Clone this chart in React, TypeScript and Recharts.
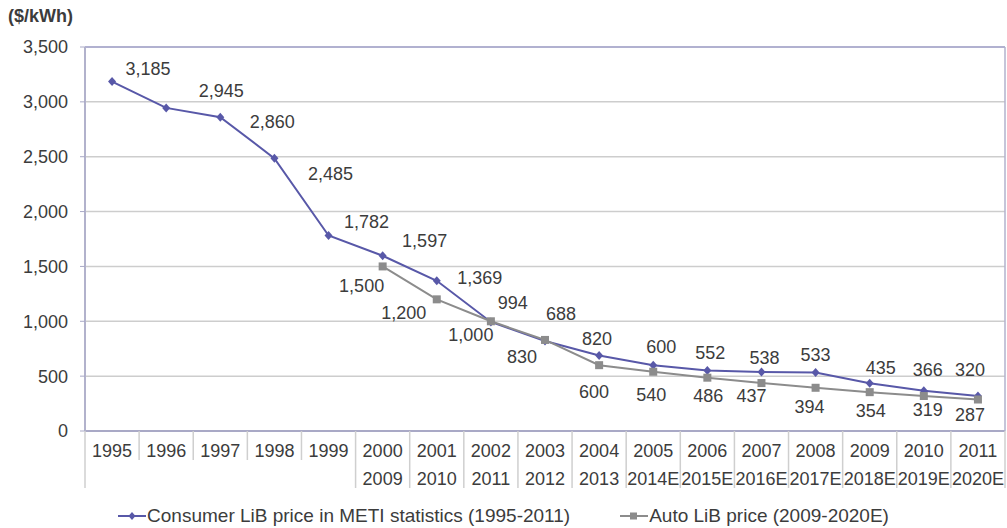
import {
    ComposedChart,
    Line,
    XAxis,
    YAxis,
    CartesianGrid,
    ReferenceLine,
    LabelList,
    Legend,
} from 'recharts'

// category rows on the x axis
const years = [
    '1995', '1996', '1997', '1998', '1999', '2000', '2001', '2002', '2003',
    '2004', '2005', '2006', '2007', '2008', '2009', '2010', '2011',
]
const autoYears = [
    '', '', '', '', '', '2009', '2010', '2011', '2012',
    '2013', '2014E', '2015E', '2016E', '2017E', '2018E', '2019E', '2020E',
]

// $/kWh
const consumerPrice = [
    3185, 2945, 2860, 2485, 1782, 1597, 1369, 994, 820,
    688, 600, 552, 538, 533, 435, 366, 320,
]
const autoPrice = [
    null, null, null, null, null, 1500, 1200, 1000, 830,
    600, 540, 486, 437, 394, 354, 319, 287,
]

const yTicks = [0, 500, 1000, 1500, 2000, 2500, 3000, 3500]

// label nudges (text centre relative to the point), the source chart places them unevenly
const consumerNudge = [
    [36, -13], [55, -17], [52, 5], [56, 16], [38, -13], [42, -15], [43, -3], [22, -19], [52, -2],
    [-38, -42], [8, -18], [3, -17], [3, -14], [0, -18], [11, -15], [4, -21], [-8, -26],
]
const autoNudge = [
    [0, 0], [0, 0], [0, 0], [0, 0], [0, 0], [-21, 20], [-33, 14], [-20, 14], [-23, 17],
    [-5, 27], [-2, 23], [1, 18], [-10, 13], [-6, 19], [1, 19], [4, 14], [-8, 15],
]

const data = years.map((y, i) => ({
    year: y,
    consumer: consumerPrice[i],
    auto: autoPrice[i],
}))

const W = 1007
const H = 528
const LEFT = 85
const RIGHT_AXIS = 2
const PLOT_W = W - LEFT - RIGHT_AXIS

const CONSUMER = '#5858a8'
const AUTO = '#8c8c8c'
const TEXT = '#3c3c3c'
const FONT = '"Liberation Sans", Arial, sans-serif'

const fmt = (v: number) => v.toLocaleString('en-US')

function CategoryTick(props: any) {
    const { x, y, index } = props
    const bw = PLOT_W / years.length
    const left = x - bw / 2
    const right = x + bw / 2
    const hasSecond = autoYears[index] !== ''
    const full = 57
    const short = 29
    return (
        <g>
            <line
                x1={left} x2={left} y1={y} y2={y + (index === 0 || hasSecond ? full : short)}
                stroke="#cfcfcf" strokeWidth={1.5}
            />
            {index === years.length - 1 && (
                <line x1={right} x2={right} y1={y} y2={y + full} stroke="#cfcfcf" strokeWidth={1.5} />
            )}
            <text x={x} y={y + 20} textAnchor="middle" dominantBaseline="central"
                fontSize={18} fill={TEXT} fontFamily={FONT}>
                {years[index]}
            </text>
            {hasSecond && (
                <text x={x} y={y + 48} textAnchor="middle" dominantBaseline="central"
                    fontSize={18} fill={TEXT} fontFamily={FONT}>
                    {autoYears[index]}
                </text>
            )}
        </g>
    )
}

function makeLabel(nudge: number[][]) {
    return (props: any) => {
        const { x, y, value, index } = props
        if (value == null) return null
        const [dx, dy] = nudge[index]
        return (
            <text x={x + dx} y={y + dy} textAnchor="middle" dominantBaseline="central"
                fontSize={18} fill={TEXT} fontFamily={FONT}>
                {fmt(value)}
            </text>
        )
    }
}

function Diamond(props: any) {
    const { cx, cy } = props
    if (cx == null || cy == null) return null
    return <path d={`M${cx},${cy - 4.5}L${cx + 4},${cy}L${cx},${cy + 4.5}L${cx - 4},${cy}Z`} fill={CONSUMER} />
}

function Square(props: any) {
    const { cx, cy, value } = props
    if (cx == null || cy == null || value == null) return null
    return <rect x={cx - 4} y={cy - 4} width={8} height={8} fill={AUTO} />
}

function LegendContent() {
    const item = (color: string, marker: 'd' | 's', text: string) => (
        <div style={{ display: 'flex', alignItems: 'center' }}>
            <svg width={28} height={12}>
                <line x1={0} x2={28} y1={6} y2={6} stroke={color} strokeWidth={2} />
                {marker === 'd'
                    ? <path d="M14,2L17.5,6L14,10L10.5,6Z" fill={color} />
                    : <rect x={10} y={2.5} width={7} height={7} fill={color} />}
            </svg>
            <span style={{ fontSize: 19, color: TEXT, fontFamily: FONT, marginLeft: 1 }}>{text}</span>
        </div>
    )
    return (
        <div style={{ display: 'flex', justifyContent: 'center', gap: 50, paddingTop: 14 }}>
            {item(CONSUMER, 'd', 'Consumer LiB price in METI statistics (1995-2011)')}
            {item(AUTO, 's', 'Auto LiB price (2009-2020E)')}
        </div>
    )
}

export default function App() {
    return (
        <div style={{ position: 'relative', width: W, height: H, fontFamily: FONT, background: '#fff' }}>
            <style>{'body{margin:0}'}</style>
            <div style={{ position: 'absolute', left: 8, top: 6, fontSize: 18, fontWeight: 700, color: TEXT }}>
                ($/kWh)
            </div>
            <ComposedChart
                width={W}
                height={H}
                data={data}
                margin={{ top: 47, right: 0, bottom: 0, left: 0 }}
                style={{ fontFamily: FONT }}
            >
                <CartesianGrid vertical={false} stroke="#cdcdcd" strokeWidth={1.5} />
                <XAxis
                    dataKey="year"
                    scale="band"
                    interval={0}
                    height={60}
                    tickLine={false}
                    tickSize={0}
                    tickMargin={0}
                    axisLine={{ stroke: '#a9a9c6', strokeWidth: 2 }}
                    tick={<CategoryTick />}
                />
                <YAxis
                    width={LEFT}
                    domain={[0, 3500]}
                    ticks={yTicks}
                    tickFormatter={fmt}
                    tickSize={5}
                    tickMargin={12}
                    tickLine={{ stroke: '#a9a9c6' }}
                    axisLine={{ stroke: '#b2b2cc', strokeWidth: 2 }}
                    tick={{ fontSize: 18, fill: TEXT }}
                />
                <YAxis
                    yAxisId="r"
                    orientation="right"
                    width={RIGHT_AXIS}
                    domain={[0, 3500]}
                    tick={false}
                    tickLine={false}
                    axisLine={{ stroke: '#b2b2cc', strokeWidth: 1.5 }}
                />
                <ReferenceLine y={3500} stroke="#a3a3cc" strokeWidth={1.5} />
                <Legend verticalAlign="bottom" height={37} content={<LegendContent />} />
                <Line
                    dataKey="consumer"
                    stroke={CONSUMER}
                    strokeWidth={2}
                    dot={<Diamond />}
                    activeDot={false}
                    isAnimationActive={false}
                >
                    <LabelList dataKey="consumer" content={makeLabel(consumerNudge)} />
                </Line>
                <Line
                    dataKey="auto"
                    stroke={AUTO}
                    strokeWidth={2}
                    dot={<Square />}
                    activeDot={false}
                    isAnimationActive={false}
                >
                    <LabelList dataKey="auto" content={makeLabel(autoNudge)} />
                </Line>
            </ComposedChart>
        </div>
    )
}
